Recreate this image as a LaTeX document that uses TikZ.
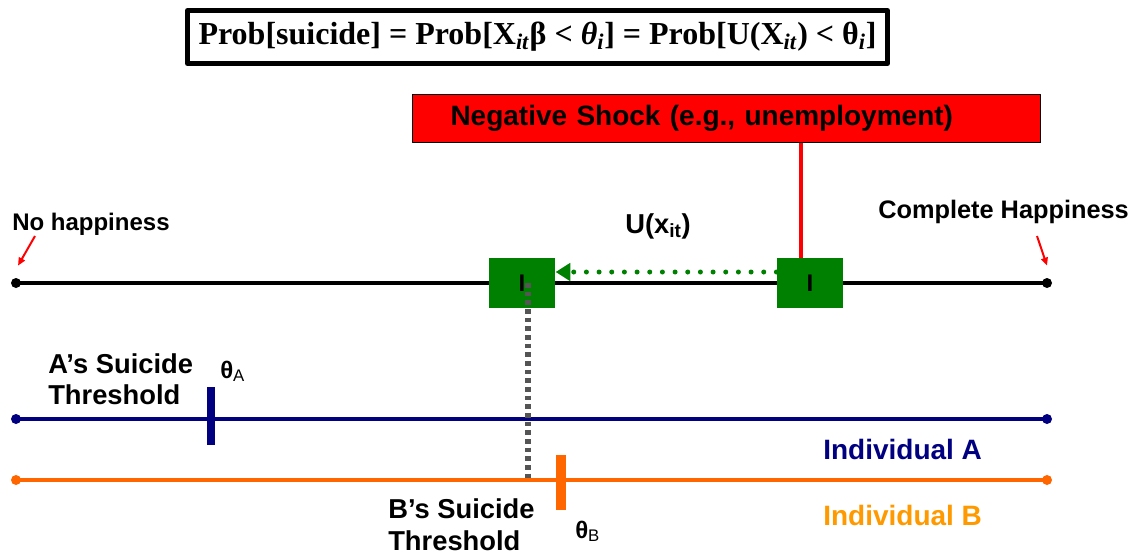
\documentclass[tikz,border=0pt]{standalone}
\usepackage{fontspec}
\setmainfont{Liberation Sans}
\newfontfamily\timesfont{Liberation Serif}
\usetikzlibrary{arrows.meta}
\definecolor{navyA}{RGB}{0,0,128}
\definecolor{orangeB}{RGB}{255,102,0}
\definecolor{orangeT}{RGB}{255,153,0}
\definecolor{shockred}{RGB}{255,0,0}
\definecolor{boxgreen}{RGB}{0,128,0}
\definecolor{dotgray}{RGB}{85,85,85}
\begin{document}
\begin{tikzpicture}[x=0.75pt,y=-0.75pt,line join=round,
	font=\bfseries\fontsize{18}{23.25}\selectfont,
	lab/.style={inner sep=0pt,align=left},
	big/.style={font=\bfseries\fontsize{21}{24}\selectfont},
	gbox/.style={fill=boxgreen,minimum width=50pt,minimum height=37pt,inner sep=0pt},
	enddot/.style={circle,fill,inner sep=0pt,minimum size=7.5pt},
	axisline/.style={line width=3pt,line cap=round},
	pointer/.style={shockred,line width=1.5pt,-{Triangle[length=6pt,width=5pt]}}]
	\useasboundingbox (0,0) rectangle (1138,557);
	% formula on top
	\node[draw,line width=3.75pt,minimum width=525pt,minimum height=39.75pt,inner sep=0pt] (formula) at (537.5,37)
	{\timesfont\bfseries\fontsize{24}{26}\selectfont Prob[suicide] = Prob[X\textsubscript{\textit{it}}β < \textit{θ}\textsubscript{\textit{i}}] = Prob[U(X\textsubscript{\textit{it}}) < θ\textsubscript{\textit{i}}]};
	% shock
	\node[draw,fill=shockred,line width=0.75pt,anchor=north west,minimum height=36pt,
	 text width=414pt,inner xsep=28.5pt,align=left,big] (shock) at (412,94)
	{Negative Shock (e.g., unemployment)};
	% happiness scale
	\coordinate (h0) at (16,283);
	\coordinate (h1) at (1047,283);
	\draw[axisline] (h0) -- (h1);
	\node[enddot] at (h0) {};
	\node[enddot] at (h1) {};
	\node[lab,anchor=base west] (nohap) at (12,230) {No happiness};
	\node[lab,anchor=base west,font=\bfseries\fontsize{19}{23}\selectfont] (comphap) at (878,218) {Complete Happiness};
	\coordinate (nohaptip) at (35,236);
	\coordinate (comphaptip) at (1037,236);
	\draw[pointer] (nohaptip) -- ([shift={(1.5pt,13pt)}]h0);
	\draw[pointer] (comphaptip) -- ([yshift=13pt]h1);
	% individuals
	\coordinate (a0) at (16,419);
	\coordinate (a1) at (1047,419);
	\coordinate (b0) at (16,480);
	\coordinate (b1) at (1047,480);
	\draw[axisline,navyA] (a0) -- (a1);
	\node[enddot,navyA] at (a0) {};
	\node[enddot,navyA] at (a1) {};
	\draw[axisline,orangeB] (b0) -- (b1);
	\node[enddot,orangeB] at (b0) {};
	\node[enddot,orangeB] at (b1) {};
	\node[lab,anchor=base west,navyA,big] (indA) at (823,459) {Individual A};
	\node[lab,anchor=base west,orangeT,big] (indB) at (823,525) {Individual B};
	% thresholds
	\coordinate (thA) at (211,419);
	\coordinate (thB) at (561,480);
	\draw[navyA,line width=6pt] ([yshift=24pt]thA) -- ([yshift=-19.5pt]thA);
	\draw[orangeB,line width=7.5pt] ([yshift=18.75pt]thB) -- ([yshift=-22.5pt]thB);
	\node[lab,anchor=north west,font=\bfseries\fontsize{20.5}{23.5}\selectfont] (thrA) at (48,353) {A’s Suicide\\Threshold};
	\node[lab,anchor=north west,font=\bfseries\fontsize{20.5}{24}\selectfont] (thrB) at (388,498) {B’s Suicide\\Threshold};
	\node[lab,anchor=base west] (thetaA) at (220,378) {θ\textsubscript{\mdseries A}};
	\node[lab,anchor=base west] (thetaB) at (575,538) {θ\textsubscript{\mdseries B}};
	% shock moves the individual
	\node[gbox] (rbox) at (810,283) {I};
	\node[gbox] (lbox) at (522,283) {I};
	\draw[shockred,line width=3pt] ([xshift=-6.75pt]rbox.north) -- ([xshift=-6.75pt]rbox.north |- shock.south);
	\draw[boxgreen,line width=3.75pt,line cap=round,dash pattern=on 0pt off 9.5pt,
	 -{Triangle[length=11pt,width=13pt]}] ([yshift=8.25pt]rbox.west) -- ([yshift=8.25pt]lbox.east);
	\node[lab,anchor=base west,font=\bfseries\fontsize{20.5}{24}\selectfont] (util) at (625,233) {U(x\textsubscript{it})};
	\draw[dotgray,line width=5pt,dash pattern=on 3.5pt off 3pt] ([xshift=4.5pt]lbox.center) -- ([xshift=4.5pt]lbox.center |- b0);
\end{tikzpicture}
\end{document}
